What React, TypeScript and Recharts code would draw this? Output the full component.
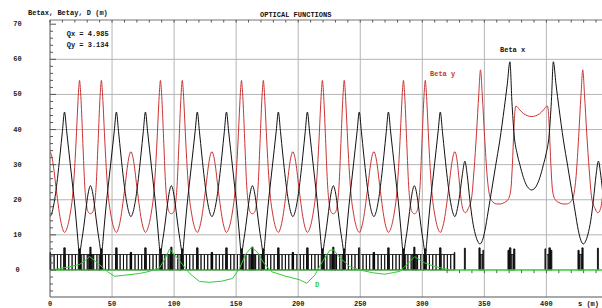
import React from 'react';
import { ComposedChart, Line, XAxis, YAxis, ReferenceLine, ReferenceArea } from 'recharts';

// periodic cell (65.2 m); u = 0 at a beta-y maximum
const cellStarts = [0, 65.2, 130.5, 195.7, 261.0];
const cellU = [0, 1.5, 3, 4.5, 6, 8, 10, 11.7, 13.4, 15, 16.5, 18, 19.5, 21, 22.4, 23.1, 23.8, 24.5, 25.2, 26.5, 28, 29.5, 31, 32.6, 34.2, 35.7, 37.2, 38.7, 40, 40.7, 41.4, 42.1, 42.8, 44.2, 45.7, 47.2, 48.7, 50.2, 51.8, 53.5, 55.2, 57.2, 59.2, 60.7, 62.2, 63.7];
const cellBetaX = [15.2, 16.2, 18.5, 21.8, 26, 32.5, 39.5, 45, 39.6, 34.4, 29.6, 24.8, 20, 14.5, 8.8, 6, 4.3, 5.6, 7.5, 10.5, 14.5, 18.8, 22.3, 24, 22.3, 18.8, 14.5, 10.5, 7.5, 5.6, 4.3, 6, 8.8, 14.5, 20, 24.8, 29.6, 34.4, 39.6, 45, 39.5, 32.5, 26, 21.8, 18.5, 16.2];
const cellBetaY = [33.7, 32.3, 29, 24.5, 20.3, 15.2, 11.9, 10.7, 11.6, 13.6, 16.5, 20.3, 27, 36.5, 47, 51.5, 54, 51.5, 47, 36, 24, 18.3, 16.4, 16, 16.4, 18.3, 24, 36, 47, 51.5, 54, 51.5, 47, 36.5, 27, 20.3, 16.5, 13.6, 11.6, 10.7, 11.9, 15.2, 20.3, 24.5, 29, 32.3];

// insertion after the last cell
const insXS = [326.2, 328.3, 330.2, 332.4, 334.3, 336.2, 338.3, 340.5, 342.7, 344.6, 346.4, 348.4, 350.5, 353, 356, 359, 362.5, 366, 368.5, 370.6, 372.2, 374, 376.5, 378.6, 381.5, 384.5, 388.1, 391.7, 394.7, 397.6, 399.7, 402.2, 404, 405.6, 407.7, 410.2, 413.7, 417.2, 420.2, 423.2, 425.7, 427.8, 429.8, 431.6, 433.5, 435.7, 437.9, 440, 441.9, 443.8, 446];
const insX = [15.2, 17.5, 21.5, 27.5, 31, 27, 20, 14, 10.2, 8.2, 7.4, 8.4, 11.3, 16.5, 23, 29.5, 37, 46, 53, 59.3, 48, 38.5, 33, 30, 26.3, 23.8, 22.8, 23.8, 26.3, 30, 33, 38.5, 48, 59.3, 53, 46, 37, 29.5, 23, 16.5, 11.3, 8.4, 7.4, 8.2, 10.2, 14, 20, 27, 31, 27, 20];
const insYS = [326.2, 327.7, 329.3, 330.8, 332.7, 334.8, 337, 339.7, 341.7, 343.7, 345.5, 346.9, 348.3, 350.2, 352.2, 354.4, 357, 360, 363, 366, 369, 371.2, 372.6, 373.8, 374.7, 375.5, 378.5, 381.7, 385, 388.1, 391.2, 394.5, 397.7, 400.7, 401.5, 402.4, 403.6, 405, 407.2, 410.2, 413.2, 416.2, 419.2, 421.8, 424, 426, 427.9, 429.3, 430.7, 432.5, 434.5, 436.5, 439.2, 441.4, 443.5, 445.4];
const insY = [33.7, 32, 27, 21.5, 17.3, 16.3, 17.5, 20.5, 28.5, 39, 50, 57, 50, 38, 27, 21, 19.3, 18.8, 18.8, 19.2, 20, 22.5, 30, 40, 45.5, 46.7, 45.6, 44.5, 43.9, 43.7, 43.9, 44.5, 45.6, 46.7, 45.5, 40, 30, 22.5, 20, 19.2, 18.8, 18.8, 19.3, 21, 27, 38, 50, 57, 50, 39, 28.5, 20.5, 17.5, 16.3, 17.3, 21.5];

// dispersion
const dispS = [0, 7.7, 15.7, 23.8, 28, 31.9, 35.5, 39.9, 46.4, 52, 60, 72.2, 80.2, 88.3, 93.1, 96.4, 101.2, 106.9, 112.5, 120.6, 128.6, 138.3, 147.2, 152.8, 157.7, 162.5, 167.3, 172.2, 178.6, 189.1, 201.2, 206.9, 213.3, 219.8, 225.4, 228.6, 233.5, 241.5, 249.6, 260.1, 269.8, 281.9, 288.3, 293.9, 302, 310.1, 318.1, 326.2, 446];
const disp = [0, 0.4, 0.9, 1.6, 2.6, 3.8, 2.8, 1.5, -0.5, -1.8, -1.5, -1.0, -0.4, 0.6, 3.5, 6.0, 4.0, 1.5, -1.0, -3.3, -3.5, -3.2, -2.4, 0.5, 4.5, 6.5, 5.0, 2.0, -0.5, -1.7, -2.8, -3.8, -1.5, 2.5, 5.6, 5.7, 3.5, 1.0, 0, -0.8, -1.2, -0.4, 1.8, 3.8, 2.0, 1.0, 0.3, 0, 0];

// lattice elements of one cell (u start, u end) and heights
const cellBends = [[0.6, 3.3], [3.3, 6.0], [6.0, 8.7], [8.7, 11.0], [12.4, 15.1], [15.1, 17.8], [17.8, 20.5], [20.5, 22.8], [24.8, 27.4], [27.4, 30.0], [30.0, 32.0], [33.2, 35.2], [35.2, 37.8], [37.8, 40.4], [42.4, 44.7], [44.7, 47.4], [47.4, 50.1], [50.1, 52.8], [54.2, 56.5], [56.5, 59.2], [59.2, 61.9], [61.9, 64.6]];
const cellQuads = [[0, 0.5, 5.0], [11.1, 12.3, 6.3], [23.2, 24.4, 6.0], [32.1, 33.1, 6.5], [40.8, 42.0, 6.0], [52.9, 54.1, 6.3], [64.7, 65.2, 5.0]];
const cellSexts = [[24.6, 25.6], [30.9, 31.9], [33.3, 34.3], [39.6, 40.6]];
const insQuads = [[333.9, 334.7, 6.2], [345.6, 346.6, 6.3], [348.8, 349.8, 5.6], [369.0, 370.0, 5.6], [370.2, 371.4, 6.3], [373.6, 374.6, 6.0], [398.8, 399.8, 6.0], [402.0, 403.2, 6.3], [403.4, 404.4, 5.6], [425.4, 426.4, 5.6], [428.6, 429.6, 6.3], [441.1, 441.9, 6.2]];
const insSexts = [[346.6, 348.8], [371.4, 373.6], [399.8, 402.0], [426.4, 428.6]];
const bendHeight = 4.4;

const xTicks = [0, 50, 100, 150, 200, 250, 300, 350, 400];
const xMinor = [0, 10, 20, 30, 40, 50, 60, 70, 80, 90, 100, 110, 120, 130, 140, 150, 160, 170, 180, 190, 200, 210, 220, 230, 240, 250, 260, 270, 280, 290, 300, 310, 320, 330, 340, 350, 360, 370, 380, 390, 400, 410, 420, 430, 440];
const yGrid = [10, 20, 30, 40, 50, 60];
const yMinor = [-6, -4, -2, 0, 2, 4, 6, 8, 10, 12, 14, 16, 18, 20, 22, 24, 26, 28, 30, 32, 34, 36, 38, 40, 42, 44, 46, 48, 50, 52, 54, 56, 58, 60, 62, 64, 66, 68, 70];
const zeroTicks = [320, 330, 340, 350, 360, 370, 380, 390, 400, 410, 420, 430, 440];

const betaX = [
  ...cellStarts.flatMap((c) => cellU.map((u, i) => ({ s: c + u, v: cellBetaX[i] }))),
  ...insXS.map((s, i) => ({ s, v: insX[i] })),
];
const betaY = [
  ...cellStarts.flatMap((c) => cellU.map((u, i) => ({ s: c + u, v: cellBetaY[i] }))),
  ...insYS.map((s, i) => ({ s, v: insY[i] })),
];
const dispData = dispS.map((s, i) => ({ s, v: disp[i] }));

const lattice: { x1: number; x2: number; h: number; kind: string }[] = [];
cellStarts.forEach((c) => {
  cellBends.forEach(([a, b]) => lattice.push({ x1: c + a, x2: c + b, h: bendHeight, kind: 'bend' }));
  cellSexts.forEach(([a, b]) => lattice.push({ x1: c + a, x2: c + b, h: bendHeight, kind: 'sext' }));
  cellQuads.forEach(([a, b, h]) => lattice.push({ x1: c + a, x2: c + b, h, kind: 'quad' }));
});
insSexts.forEach(([a, b]) => lattice.push({ x1: a, x2: b, h: bendHeight, kind: 'sext' }));
insQuads.forEach(([a, b, h]) => lattice.push({ x1: a, x2: b, h, kind: 'quad' }));

const FONT = '"Liberation Mono", "DejaVu Sans Mono", monospace';

function YTick(props: any) {
  const { x, y, payload } = props;
  const v = payload.value;
  const major = v % 10 === 0;
  return (
    <g>
      <line x1={x} y1={y} x2={x + (major ? 6 : 3)} y2={y} stroke="#555" />
      {major && v >= 0 ? (
        <text x={17.5} y={y} textAnchor="middle" dominantBaseline="central" fontFamily={FONT} fontWeight={700} fontSize={7} fill="#222">
          {v}
        </text>
      ) : null}
    </g>
  );
}

function TopTick(props: any) {
  const { x, y } = props;
  return <line x1={x} y1={y} x2={x} y2={y + 2.5} stroke="#555" />;
}

function BottomTick(props: any) {
  const { x, y, payload } = props;
  return (
    <text x={x} y={y + 7} textAnchor="middle" dominantBaseline="central" fontFamily={FONT} fontWeight={700} fontSize={7} fill="#222">
      {payload.value}
    </text>
  );
}

function Label({ x, y, color, children }: { x: number; y: number; color?: string; children: React.ReactNode }) {
  return (
    <div
      style={{
        position: 'absolute',
        left: x,
        top: y - 5,
        height: 10,
        lineHeight: '10px',
        fontFamily: FONT,
        fontWeight: 700,
        fontSize: 7,
        color: color || '#111',
        whiteSpace: 'pre',
      }}
    >
      {children}
    </div>
  );
}

export default function App() {
  return (
    <div style={{ position: 'absolute', left: 0, top: 0, width: 602, height: 308, background: '#fff', overflow: 'hidden' }}>
      <ComposedChart width={602} height={308} margin={{ top: 19, right: 0, bottom: 0, left: 0 }}>
        <XAxis
          xAxisId="top"
          orientation="top"
          type="number"
          dataKey="s"
          domain={[0, 444.8]}
          allowDataOverflow
          ticks={xMinor}
          interval={0}
          height={1}
          tickSize={0}
          tickMargin={0}
          tickLine={false}
          axisLine={{ stroke: '#777' }}
          tick={(p: any) => <TopTick {...p} />}
        />
        <XAxis
          type="number"
          dataKey="s"
          domain={[0, 444.8]}
          allowDataOverflow
          ticks={xTicks}
          interval={0}
          height={11}
          tickSize={0}
          tickMargin={0}
          tickLine={false}
          axisLine={{ stroke: '#555' }}
          tick={(p: any) => <BottomTick {...p} />}
        />
        <YAxis
          type="number"
          domain={[-7.7, 71.2]}
          allowDataOverflow
          ticks={yMinor}
          interval={0}
          width={50}
          tickSize={0}
          tickMargin={0}
          tickLine={false}
          axisLine={{ stroke: '#555' }}
          tick={(p: any) => <YTick {...p} />}
        />
        {xTicks.slice(1).map((v) => (
          <ReferenceLine key={`gx${v}`} x={v} stroke="#b4b4b4" />
        ))}
        {yGrid.map((v) => (
          <ReferenceLine key={`gy${v}`} y={v} stroke="#b4b4b4" />
        ))}
        <ReferenceLine y={0} stroke="#33cc33" />
        {zeroTicks.map((v) => (
          <ReferenceLine
            key={`zt${v}`}
            segment={[
              { x: v, y: 0 },
              { x: v, y: -0.9 },
            ]}
            stroke="#555"
          />
        ))}
        {lattice.map((e, i) => (
          <ReferenceArea
            key={`el${i}`}
            x1={e.x1}
            x2={e.x2}
            y1={0}
            y2={e.h}
            fill={e.kind === 'bend' ? 'none' : e.kind === 'sext' ? '#777' : '#222'}
            fillOpacity={1}
            stroke="#000"
            strokeWidth={0.8}
            ifOverflow="visible"
          />
        ))}
        <Line data={betaY} dataKey="v" type="monotone" stroke="#cc3333" strokeWidth={1} dot={false} isAnimationActive={false} />
        <Line data={betaX} dataKey="v" type="monotone" stroke="#111" strokeWidth={1} dot={false} isAnimationActive={false} />
        <Line data={dispData} dataKey="v" type="linear" stroke="#33cc33" strokeWidth={1} dot={false} isAnimationActive={false} />
      </ComposedChart>
      <Label x={28} y={13.3}>Betax, Betay, D (m)</Label>
      <Label x={260} y={15}>OPTICAL FUNCTIONS</Label>
      <Label x={66.7} y={34.3}>Qx = 4.985</Label>
      <Label x={66.7} y={45.3}>Qy = 3.134</Label>
      <Label x={500} y={50}>Beta x</Label>
      <Label x={430} y={74} color="#cc3333">Beta y</Label>
      <Label x={315} y={285} color="#33cc33">D</Label>
      <Label x={578} y={304}>s (m)</Label>
    </div>
  );
}
